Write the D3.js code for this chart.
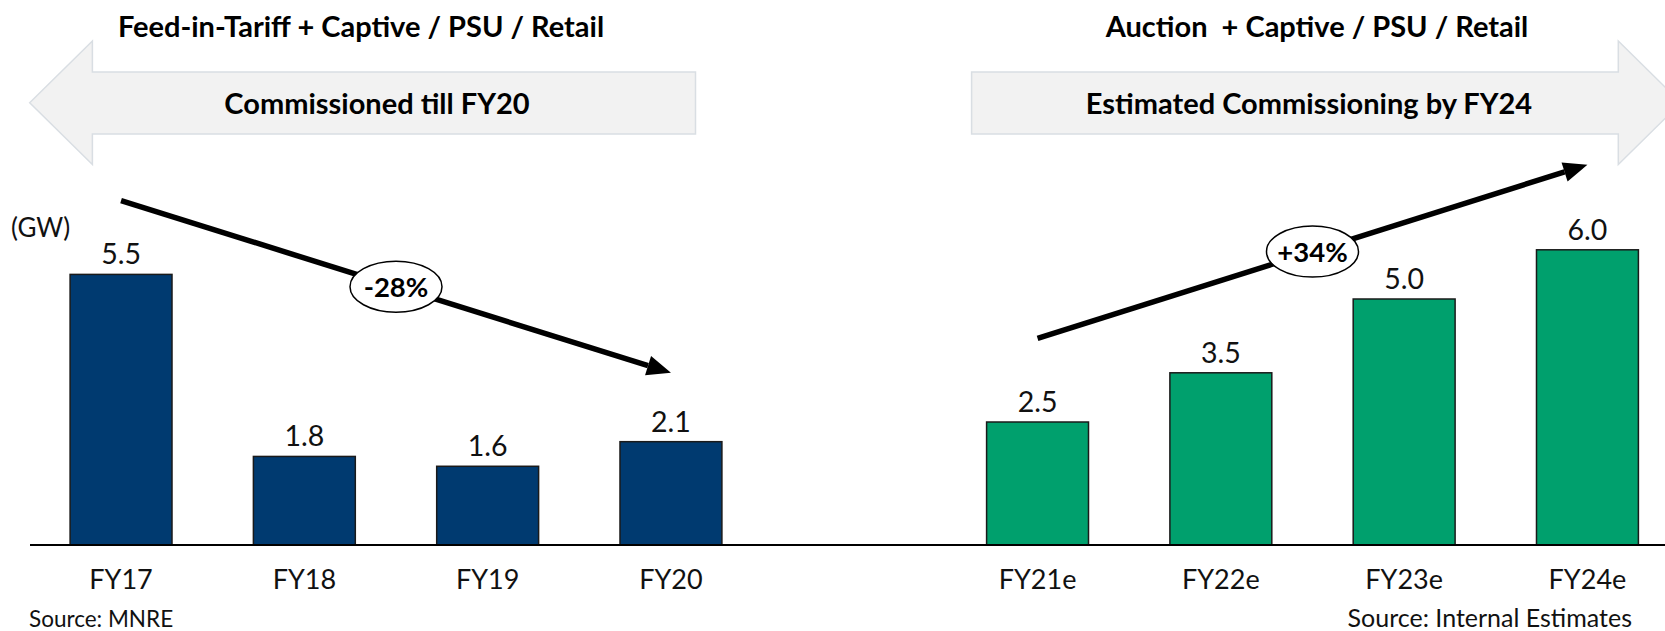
<!DOCTYPE html>
<html>
<head>
<meta charset="utf-8">
<script src="https://cdn.jsdelivr.net/npm/d3@7"></script>
<style>
  html, body { margin: 0; padding: 0; background: #ffffff; }
  svg { display: block; font-family: Lato, "Open Sans", sans-serif; }
  text { white-space: pre; }
</style>
</head>
<body>
<svg id="chart" width="1665" height="631"></svg>
<script>
// ---- data ----
const actualYears = ["FY17", "FY18", "FY19", "FY20"];
const actualValues = [5.5, 1.8, 1.6, 2.1];
const estimateYears = ["FY21e", "FY22e", "FY23e", "FY24e"];
const estimateValues = [2.5, 3.5, 5.0, 6.0];
const gapKey = "gap";
const sectionTitles = ["Feed-in-Tariff + Captive / PSU / Retail", "Auction  + Captive / PSU / Retail"];
const bannerTexts = ["Commissioned till FY20", "Estimated Commissioning by FY24"];
const growthLabels = ["-28%", "+34%"];
const sources = ["Source: MNRE", "Source: Internal Estimates"];
const unitLabel = "(GW)";

// ---- layout ----
const W = 1665, H = 631;
const svg = d3.select("#chart");
const navy = "#003A70", green = "#00A06D";

const domain = [...actualYears, gapKey, ...estimateYears];
const x = d3.scaleBand().domain(domain).range([29.4, 1679.1]).paddingInner(0.444).paddingOuter(0.222);
const y = d3.scaleLinear().domain([0, 7]).range([545, 200.6]);
const cx = k => x(k) + x.bandwidth() / 2;

// ---- big banner arrows ----
function bannerArrow(dir, x0, x1) {
  const yTop = 72, yBot = 134, hTop = 41, hBot = 164.5, yMid = (hTop + hBot) / 2, headLen = 62.7;
  let pts;
  if (dir < 0) {
    const hx = x0 + headLen;
    pts = [[x0, yMid], [hx, hTop], [hx, yTop], [x1, yTop], [x1, yBot], [hx, yBot], [hx, hBot]];
  } else {
    const hx = x1 - headLen;
    pts = [[x1, yMid], [hx, hBot], [hx, yBot], [x0, yBot], [x0, yTop], [hx, yTop], [hx, hTop]];
  }
  svg.append("polygon")
    .attr("points", pts.map(p => p.join(",")).join(" "))
    .attr("fill", "#F2F2F2").attr("stroke", "#D9DEE3").attr("stroke-width", 1.5);
}
bannerArrow(-1, 29.7, 695.5);
bannerArrow(1, 971.6, 1681);

svg.append("text").attr("x", 377).attr("y", 114).attr("text-anchor", "middle")
  .attr("font-weight", 700).attr("font-size", 29).text(bannerTexts[0]);
svg.append("text").attr("x", 1309).attr("y", 114).attr("text-anchor", "middle")
  .attr("font-weight", 700).attr("font-size", 29).text(bannerTexts[1]);

svg.append("text").attr("x", 361).attr("y", 37).attr("text-anchor", "middle")
  .attr("font-weight", 700).attr("font-size", 29).text(sectionTitles[0]);
svg.append("text").attr("x", 1317).attr("y", 37).attr("text-anchor", "middle")
  .attr("font-weight", 700).attr("font-size", 29).text(sectionTitles[1]);

// ---- bars ----
const bars = [
  ...actualYears.map((k, i) => ({ k, v: actualValues[i], c: navy })),
  ...estimateYears.map((k, i) => ({ k, v: estimateValues[i], c: green }))
];
svg.append("g").selectAll("rect").data(bars).join("rect")
  .attr("x", d => x(d.k)).attr("width", x.bandwidth())
  .attr("y", d => y(d.v)).attr("height", d => y(0) - y(d.v))
  .attr("fill", d => d.c).attr("stroke", "#1a1a1a").attr("stroke-width", 1.5);

svg.append("g").selectAll("text").data(bars).join("text")
  .attr("x", d => cx(d.k)).attr("y", d => y(d.v) - 10)
  .attr("text-anchor", "middle").attr("font-size", 28.5).attr("fill", "#111")
  .text(d => d3.format(".1f")(d.v));

// ---- axis ----
const axis = svg.append("g").attr("transform", `translate(0,${y(0)})`)
  .call(d3.axisBottom(x).tickSize(0).tickFormat(d => d === gapKey ? "" : d));
axis.select(".domain").remove();
axis.selectAll("text").attr("y", 44).attr("dy", 0)
  .attr("font-size", 27).attr("font-family", "Lato, sans-serif").attr("fill", "#111");
svg.append("line").attr("x1", 30).attr("x2", W).attr("y1", y(0)).attr("y2", y(0))
  .attr("stroke", "#000").attr("stroke-width", 2);

// ---- unit + sources ----
svg.append("text").attr("x", 11).attr("y", 237).attr("font-size", 26).attr("fill", "#111").text(unitLabel);
svg.append("text").attr("x", 29).attr("y", 627).attr("font-size", 22.5).attr("fill", "#111").text(sources[0]);
svg.append("text").attr("x", 1632).attr("y", 627).attr("text-anchor", "end").attr("font-size", 25).attr("fill", "#111").text(sources[1]);

// ---- trend arrows ----
const trends = [
  { from: "FY17", fromV: 7.0, to: "FY20", toV: 3.5, label: growthLabels[0] },
  { from: "FY21e", fromV: 4.2, to: "FY24e", toV: 7.73, label: growthLabels[1] }
];
trends.forEach(t => {
  const x1 = cx(t.from), y1 = y(t.fromV), x2 = cx(t.to), y2 = y(t.toV);
  const ang = Math.atan2(y2 - y1, x2 - x1);
  const hl = 24, hw = 10;
  const bx = x2 - hl * Math.cos(ang), by = y2 - hl * Math.sin(ang);
  svg.append("line").attr("x1", x1).attr("y1", y1).attr("x2", bx).attr("y2", by)
    .attr("stroke", "#000").attr("stroke-width", 5.5);
  svg.append("polygon").attr("points", [
    [x2, y2],
    [bx + hw * Math.sin(ang), by - hw * Math.cos(ang)],
    [bx - hw * Math.sin(ang), by + hw * Math.cos(ang)]
  ].map(p => p.join(",")).join(" ")).attr("fill", "#000");
  const mx = (x1 + x2) / 2, my = (y1 + y2) / 2;
  svg.append("ellipse").attr("cx", mx).attr("cy", my).attr("rx", 46).attr("ry", 25.5)
    .attr("fill", "#fff").attr("stroke", "#000").attr("stroke-width", 1.5);
  svg.append("text").attr("x", mx).attr("y", my + 10).attr("text-anchor", "middle")
    .attr("font-weight", 700).attr("font-size", 27.5).text(t.label);
});
</script>
</body>
</html>
